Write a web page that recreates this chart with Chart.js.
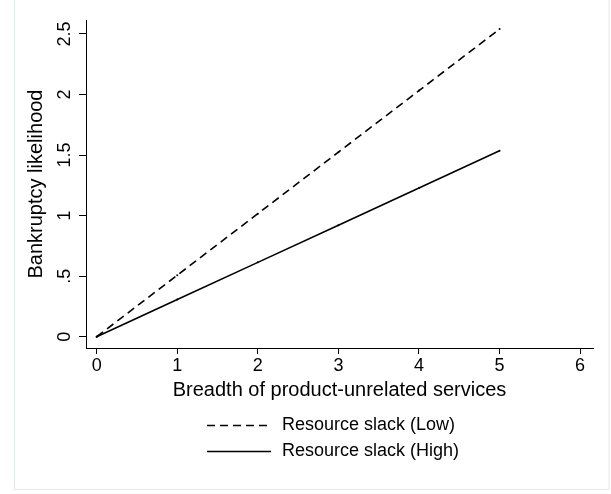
<!DOCTYPE html>
<html>
<head>
<meta charset="utf-8">
<script src="https://cdn.jsdelivr.net/npm/chart.js@4/dist/chart.umd.min.js"></script>
<style>
  body { margin: 0; background: #fff; }
  canvas { display: block; }
</style>
</head>
<body>
<canvas id="chart" width="611" height="494"></canvas>
<script>
  // Data
  const breadth = [0, 1, 2, 3, 4, 5];
  const slackLow = [0, 0.508, 1.016, 1.524, 2.032, 2.54];
  const slackHigh = [0, 0.307, 0.614, 0.921, 1.228, 1.535];
  const xTicks = [0, 1, 2, 3, 4, 5, 6];
  const xTickLabels = ['0', '1', '2', '3', '4', '5', '6'];
  const yTicks = [0, 0.5, 1, 1.5, 2, 2.5];
  const yTickLabels = ['0', '.5', '1', '1.5', '2', '2.5'];

  const FONT = "'Liberation Sans', Arial, Helvetica, sans-serif";

  // Outer frame + legend (two stacked rows, line sample on the left)
  const framePlugin = {
    id: 'frame',
    beforeDraw(chart) {
      const ctx = chart.ctx;
      ctx.save();
      ctx.fillStyle = '#fff';
      ctx.fillRect(0, 0, chart.width, chart.height);
      ctx.strokeStyle = '#e3e8e9';
      ctx.lineWidth = 1;
      ctx.strokeRect(14.5, -2, 594.5, 491.5);
      ctx.restore();
    },
    afterDraw(chart) {
      const ctx = chart.ctx;
      const rows = [425, 451];
      ctx.save();
      chart.data.datasets.forEach((ds, i) => {
        const y = rows[i] + 0.5;
        ctx.strokeStyle = ds.borderColor;
        ctx.lineWidth = ds.borderWidth;
        ctx.setLineDash(ds.borderDash || []);
        ctx.beginPath();
        ctx.moveTo(207, y);
        ctx.lineTo(271, y);
        ctx.stroke();
        ctx.setLineDash([]);
        ctx.fillStyle = '#000';
        ctx.font = '18px ' + FONT;
        ctx.textBaseline = 'middle';
        ctx.textAlign = 'left';
        ctx.fillText(ds.label, 282, rows[i]);
      });
      ctx.restore();
    }
  };

  new Chart(document.getElementById('chart').getContext('2d'), {
    type: 'line',
    data: {
      datasets: [
        {
          label: 'Resource slack (Low)',
          data: breadth.map((x, i) => ({ x: x, y: slackLow[i] })),
          borderColor: '#000',
          borderWidth: 1.6,
          borderDash: [8, 5],
          pointRadius: 1,
          pointBackgroundColor: '#000',
          pointBorderWidth: 0,
          fill: false,
          tension: 0
        },
        {
          label: 'Resource slack (High)',
          data: breadth.map((x, i) => ({ x: x, y: slackHigh[i] })),
          borderColor: '#000',
          borderWidth: 1.6,
          pointRadius: 1,
          pointBackgroundColor: '#000',
          pointBorderWidth: 0,
          fill: false,
          tension: 0
        }
      ]
    },
    options: {
      responsive: false,
      animation: false,
      layout: { padding: { left: 0, top: 20, right: 18, bottom: 92 } },
      plugins: {
        legend: { display: false },
        tooltip: { enabled: false }
      },
      scales: {
        x: {
          type: 'linear',
          min: -0.133,
          max: 6.16,
          afterBuildTicks: (scale) => { scale.ticks = xTicks.map(v => ({ value: v })); },
          afterFit: (scale) => { scale.height = 54; },
          grid: { display: true, drawOnChartArea: false, drawTicks: true, tickLength: 6, color: '#000' },
          border: { display: true, color: '#000', width: 1 },
          ticks: {
            color: '#000',
            font: { family: FONT, size: 18 },
            padding: 1,
            maxRotation: 0,
            callback: (v) => xTickLabels[xTicks.indexOf(v)]
          },
          title: {
            display: true,
            text: 'Breadth of product-unrelated services',
            color: '#000',
            font: { family: FONT, size: 20 },
            padding: { top: 0, bottom: 0 }
          }
        },
        y: {
          type: 'linear',
          min: -0.093,
          max: 2.615,
          afterBuildTicks: (scale) => { scale.ticks = yTicks.map(v => ({ value: v })); },
          afterFit: (scale) => { scale.width = 86; },
          grid: { display: true, drawOnChartArea: false, drawTicks: true, tickLength: 7, color: '#000' },
          border: { display: true, color: '#000', width: 1 },
          ticks: {
            color: '#000',
            font: { family: FONT, size: 18 },
            padding: 1,
            minRotation: 90,
            maxRotation: 90,
            crossAlign: 'center',
            callback: (v) => yTickLabels[yTicks.indexOf(v)]
          },
          title: {
            display: true,
            text: 'Bankruptcy likelihood',
            color: '#000',
            font: { family: FONT, size: 20 },
            padding: { top: 24, bottom: 0 }
          }
        }
      }
    },
    plugins: [framePlugin]
  });
</script>
</body>
</html>
